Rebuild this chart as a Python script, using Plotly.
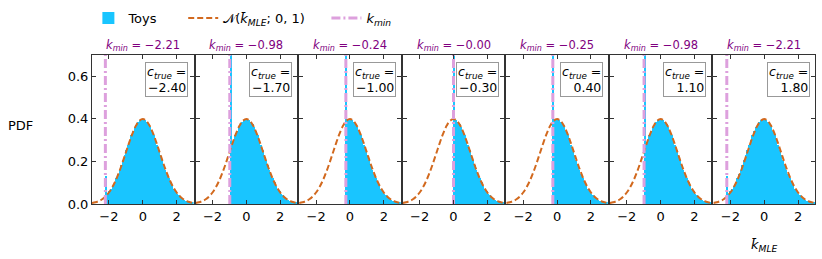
import plotly.graph_objects as go

# ---------------- data ----------------
c_true = [-2.40, -1.70, -1.00, -0.30, 0.40, 1.10, 1.80]
k_min = [-2.21, -0.98, -0.24, -0.00, -0.25, -0.98, -2.21]
k_min_labels = ["−2.21", "−0.98", "−0.24", "−0.00", "−0.25", "−0.98", "−2.21"]
c_true_labels = ["−2.40", "−1.70", "−1.00", "−0.30", "0.40", "1.10", "1.80"]
# height of the pile-up bin at k_min (values above 0.7 are clipped by the axis)
spike_height = [0.13, 1.64, 4.05, 5.00, 4.01, 1.64, 0.13]

# toy histogram density (bin centres, width 0.1)
bin_centers = [round(-2.95 + 0.1 * i, 2) for i in range(60)]
toy_density = [0.005, 0.007, 0.009, 0.012, 0.015, 0.020, 0.025, 0.032, 0.040, 0.049,
               0.060, 0.072, 0.086, 0.102, 0.120, 0.139, 0.160, 0.183, 0.206, 0.230,
               0.254, 0.278, 0.301, 0.323, 0.343, 0.361, 0.375, 0.387, 0.395, 0.398,
               0.398, 0.395, 0.387, 0.375, 0.361, 0.343, 0.323, 0.301, 0.278, 0.254,
               0.230, 0.206, 0.183, 0.160, 0.139, 0.120, 0.102, 0.086, 0.072, 0.060,
               0.049, 0.040, 0.032, 0.025, 0.020, 0.015, 0.012, 0.009, 0.007, 0.005]

# N(k_MLE; 0, 1) reference curve
curve_x = [-3.0, -2.8, -2.6, -2.4, -2.2, -2.0, -1.8, -1.6, -1.4, -1.2, -1.0, -0.8, -0.6, -0.4, -0.2,
           0.0, 0.2, 0.4, 0.6, 0.8, 1.0, 1.2, 1.4, 1.6, 1.8, 2.0, 2.2, 2.4, 2.6, 2.8, 3.0]
curve_y = [0.0044, 0.0079, 0.0136, 0.0224, 0.0355, 0.0540, 0.0790, 0.1109, 0.1497, 0.1942,
           0.2420, 0.2897, 0.3332, 0.3683, 0.3910, 0.3989, 0.3910, 0.3683, 0.3332, 0.2897,
           0.2420, 0.1942, 0.1497, 0.1109, 0.0790, 0.0540, 0.0355, 0.0224, 0.0136, 0.0079, 0.0044]

x_ticks = [-2, 0, 2]
y_ticks = [0.0, 0.2, 0.4, 0.6]

# ---------------- layout geometry ----------------
W, H = 822, 259
L, R, T, B = 92, 7, 55, 55
n = len(c_true)
plot_w = W - L - R
plot_h = H - T - B
gap = 2
pw = (plot_w - gap * (n - 1)) / n

FONT = "DejaVu Sans"
BLUE = "#19C5FF"
ORANGE = "#D2691E"
PINK = "#DDA0DD"
PURPLE = "#800080"
NB = "\u00a0"

fig = go.Figure()
layout = dict(
    width=W, height=H,
    margin=dict(l=L, r=R, t=T, b=B, autoexpand=False),
    paper_bgcolor="white", plot_bgcolor="white",
    font=dict(family=FONT, size=12, color="black"),
    barmode="overlay", bargap=0,
    showlegend=True,
    legend=dict(orientation="h", x=-0.005, xanchor="left", y=1 + 37 / plot_h, yanchor="middle",
                font=dict(size=13), bgcolor="rgba(0,0,0,0)", itemwidth=30),
)
annotations = []
for i in range(n):
    ax = "" if i == 0 else str(i + 1)
    xa, ya = "x" + ax, "y" + ax
    d0 = (i * (pw + gap)) / plot_w
    d1 = (i * (pw + gap) + pw) / plot_w
    layout["xaxis" + ax] = dict(domain=[d0, d1], range=[-3, 3], tickvals=x_ticks,
                                ticks="inside", ticklen=4, tickcolor="#333", mirror="allticks",
                                showline=True, linecolor="#333", linewidth=1, showgrid=False,
                                zeroline=False, tickfont=dict(size=13), anchor=ya)
    layout["yaxis" + ax] = dict(domain=[0, 1], range=[0, 0.7], tickvals=y_ticks,
                                tickformat=".1f", ticks="inside", ticklen=4, tickcolor="#333",
                                mirror="allticks", showline=True, linecolor="#333", linewidth=1,
                                showgrid=False, zeroline=False, showticklabels=(i == 0),
                                tickfont=dict(size=13), anchor=xa)
    km = k_min[i]
    bx = [c for c in bin_centers if c - 0.05 >= km - 1e-9]
    by = [toy_density[bin_centers.index(c)] for c in bx]
    fig.add_trace(go.Bar(x=[km + 0.03] + bx, y=[spike_height[i]] + by,
                         width=[0.06] + [0.1] * len(bx),
                         marker=dict(color=BLUE, line=dict(width=0)),
                         name="Toys" + NB * 5, showlegend=(i == 0), xaxis=xa, yaxis=ya))
    fig.add_trace(go.Scatter(x=curve_x, y=curve_y, mode="lines", line_shape="spline",
                             line=dict(color=ORANGE, width=2, dash="6px,3px"),
                             name="𝒩(<i>k̄</i><sub><i>MLE</i></sub>; 0, 1)" + NB * 4,
                             showlegend=(i == 0), xaxis=xa, yaxis=ya))
    fig.add_trace(go.Scatter(x=[km, km], y=[0, 0.7], mode="lines",
                             line=dict(color=PINK, width=3, dash="9px,3px,2px,3px"),
                             name="<i>k</i><sub><i>min</i></sub>", showlegend=(i == 0),
                             xaxis=xa, yaxis=ya))
    annotations.append(dict(xref=xa + " domain", yref="paper", x=0.5, y=1, yshift=10,
                            xanchor="center", yanchor="middle", showarrow=False,
                            text="<i>k</i><sub><i>min</i></sub> = " + k_min_labels[i],
                            font=dict(size=11.5, color=PURPLE)))
    annotations.append(dict(xref=xa + " domain", yref=ya + " domain", x=0.95, y=0.95,
                            xanchor="right", yanchor="top", align="right", showarrow=False,
                            text="<i>c</i><sub><i>true</i></sub> =<br>" + c_true_labels[i],
                            font=dict(size=12.5), bordercolor="#999", borderwidth=1,
                            borderpad=1, bgcolor="white"))

annotations.append(dict(xref="paper", yref="paper", x=-72 / plot_w, y=0.53, showarrow=False,
                        text="PDF", font=dict(size=13), xanchor="center", yanchor="middle"))
annotations.append(dict(xref="x7 domain", yref="paper", x=0.5, y=0, yshift=-41,
                        xanchor="center", yanchor="middle", showarrow=False,
                        text="<i>k̄</i><sub><i>MLE</i></sub>", font=dict(size=13)))
layout["annotations"] = annotations
fig.update_layout(**layout)
fig.write_html("out.html", config={"displayModeBar": False},
               post_script="document.body.style.margin='0';document.body.style.overflow='hidden';")
